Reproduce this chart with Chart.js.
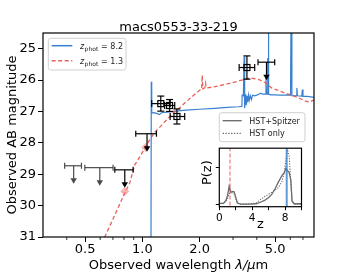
<!DOCTYPE html>
<html>
<head>
<meta charset="utf-8">
<script src="https://cdn.jsdelivr.net/npm/chart.js@4.4.1/dist/chart.umd.min.js"></script>
<style>
    body { margin: 0; background: #fff; }
    #wrap { position: relative; width: 349px; height: 279px; }
    #main { position: absolute; left: 0; top: 0; }
    #inset { position: absolute; left: 195px; top: 138px; }
</style>
</head>
<body>
<div id="wrap">
    <canvas id="main" width="349" height="279"></canvas>
    <canvas id="inset" width="120" height="100"></canvas>
</div>
<script>
// z_phot = 8.2 model spectrum (micron, AB mag)
const blueWave = [0.30, 1.108, 1.114, 1.120, 1.15, 1.20, 1.23, 1.26, 1.35, 1.50, 1.70, 2.00, 2.40, 2.80, 3.20, 3.34,
    3.35, 3.40, 3.43, 3.445, 3.46, 3.50, 3.52, 3.56, 3.58, 3.62, 3.65, 3.70, 3.75, 3.80, 3.90, 4.00, 4.10, 4.20,
    4.30, 4.44, 4.47, 4.50, 4.545, 4.56, 4.575, 4.60, 4.61, 4.62, 4.75, 5.00, 5.30, 5.60, 5.80, 6.02, 6.07, 6.12,
    6.30, 6.45, 6.50, 6.55, 6.90, 6.95, 7.00, 7.40, 8.00];
const blueMag = [34.0, 34.0, 26.05, 27.05, 27.04, 27.07, 27.10, 27.04, 27.02, 26.99, 26.96, 26.93, 26.90, 26.87, 26.85, 26.84,
    26.48, 26.50, 25.25, 26.50, 26.90, 26.45, 26.80, 26.50, 26.70, 26.48, 26.65, 26.50, 26.62, 26.48, 26.50, 26.48, 26.45, 26.42,
    26.45, 26.45, 25.90, 26.45, 26.45, 25.30, 26.45, 26.45, 23.0, 26.45, 26.47, 26.47, 26.48, 26.48, 26.47, 26.48, 23.0, 26.50,
    26.50, 26.50, 26.25, 26.50, 26.51, 26.30, 26.52, 26.52, 26.55];

// z_phot = 1.3 model spectrum
const redWave = [0.60, 0.634, 0.716, 0.808, 0.858, 0.912, 0.969, 1.03, 1.094, 1.162, 1.235, 1.339, 1.451, 1.573, 1.707,
    1.849, 2.004, 2.05, 2.066, 2.08, 2.13, 2.15, 2.17, 2.355, 2.77, 3.25, 3.67, 4.14, 4.49, 4.78, 5.62, 6.56, 7.14, 7.60, 8.00];
const redMag = [31.4, 31.0, 30.3, 29.6, 29.28, 28.7, 28.45, 28.17, 27.9, 27.66, 27.5, 27.27, 27.05, 26.88, 26.68,
    26.5, 26.32, 26.3, 25.85, 26.28, 26.25, 26.1, 26.25, 26.22, 26.13, 26.02, 25.93, 25.99, 26.1, 26.25, 26.41, 26.55, 26.66, 26.7, 26.63];

// model photometry of the z = 1.3 fit
const modelWave = [0.808, 1.04];
const modelMag = [29.55, 28.15];

// measured photometry
const detWave = [1.25, 1.39, 1.52, 3.55];
const detMag = [26.75, 26.81, 27.16, 25.60];
const detErr = [0.24, 0.19, 0.24, 0.37];
const detWaveLo = [1.12, 1.31, 1.40, 3.23];
const detWaveHi = [1.40, 1.48, 1.67, 3.90];

// upper limits
const limWave = [0.435, 0.597, 0.808, 1.058, 4.50];
const limMag = [28.73, 28.79, 28.86, 27.71, 25.43];
const limWaveLo = [0.390, 0.498, 0.716, 0.923, 4.06];
const limWaveHi = [0.478, 0.701, 0.894, 1.186, 4.97];

const xTicks = [0.5, 1.0, 2.0, 5.0];
const xMinor = [0.4, 0.6, 0.7, 0.8, 0.9, 3, 4, 6, 7];
const yTicks = [25, 26, 27, 28, 29, 30, 31];

// P(z)
const zGrid = [0, 0.5, 0.8, 1.0, 1.2, 1.4, 1.6, 1.8, 2.0, 2.2, 2.6, 3.5, 4.5, 5.0, 5.5, 6.0, 6.4, 6.8, 7.2, 7.6,
    7.9, 8.1, 8.3, 8.5, 8.7, 8.85, 9.1, 10];
const pzBoth = [0.02, 0.02, 0.1, 0.23, 0.49, 0.32, 0.34, 0.33, 0.19, 0.03, 0.0, 0.0, 0.01, 0.05, 0.1, 0.18, 0.27, 0.42, 0.6, 0.76,
    0.85, 0.97, 0.9, 0.85, 0.65, 0.08, 0.01, 0.01];
const pzHst = [0.01, 0.02, 0.07, 0.15, 0.28, 0.3, 0.3, 0.27, 0.15, 0.03, 0.0, 0.0, 0.03, 0.12, 0.2, 0.27, 0.32, 0.38, 0.45, 0.6,
    0.85, 1.2, 1.47, 1.3, 0.6, 0.1, 0.0, 0.0];
const zBest = [8.2, 1.3];

const BLUE = "rgb(58, 128, 208)";
const RED = "rgba(228, 80, 70, 0.9)";
const FONT = "DejaVu Sans";

function pts(xs, ys) {
    return xs.map(function (v, i) { return { x: v, y: ys[i] }; });
}

function line(ctx, x0, y0, x1, y1) {
    ctx.beginPath();
    ctx.moveTo(x0, y0);
    ctx.lineTo(x1, y1);
    ctx.stroke();
}

function legendBox(ctx, x0, y0, x1, y1) {
    ctx.beginPath();
    ctx.roundRect(x0, y0, x1 - x0, y1 - y0, 2.5);
    ctx.fillStyle = "rgba(255,255,255,0.85)";
    ctx.fill();
    ctx.strokeStyle = "#d0d0d0";
    ctx.lineWidth = 1;
    ctx.stroke();
}

const decor = {
    id: "decor",
    afterDatasetsDraw(chart) {
        const { ctx, scales: { x, y } } = chart;
        ctx.save();
        ctx.lineWidth = 1.2;

        // upper limits
        limWave.forEach(function (w, i) {
            const px = x.getPixelForValue(w), py = y.getPixelForValue(limMag[i]);
            const x0 = x.getPixelForValue(limWaveLo[i]), x1 = x.getPixelForValue(limWaveHi[i]);
            const col = i < 2 ? "#4a4a4a" : "#000";
            ctx.strokeStyle = col;
            ctx.fillStyle = col;
            line(ctx, x0, py, x1, py);
            line(ctx, x0, py - 3, x0, py + 3);
            line(ctx, x1, py - 3, x1, py + 3);
            line(ctx, px, py, px, py + 13);
            ctx.beginPath();
            ctx.moveTo(px - 3.2, py + 12.5);
            ctx.lineTo(px + 3.2, py + 12.5);
            ctx.lineTo(px, py + 18);
            ctx.closePath();
            ctx.fill();
        });

        // detections
        ctx.strokeStyle = "#000";
        detWave.forEach(function (w, i) {
            const px = x.getPixelForValue(w), py = y.getPixelForValue(detMag[i]);
            const x0 = x.getPixelForValue(detWaveLo[i]), x1 = x.getPixelForValue(detWaveHi[i]);
            const y0 = y.getPixelForValue(detMag[i] - detErr[i]), y1 = y.getPixelForValue(detMag[i] + detErr[i]);
            line(ctx, x0, py, x1, py);
            line(ctx, x0, py - 3.5, x0, py + 3.5);
            line(ctx, x1, py - 3.5, x1, py + 3.5);
            line(ctx, px, y0, px, y1);
            line(ctx, px - 3.5, y0, px + 3.5, y0);
            line(ctx, px - 3.5, y1, px + 3.5, y1);
            ctx.strokeRect(px - 3, py - 3, 6, 6);
        });
        ctx.restore();
    },
    afterDraw(chart) {
        const { ctx, chartArea: a, scales: { x } } = chart;
        ctx.save();
        // frame
        ctx.strokeStyle = "#000";
        ctx.lineWidth = 1.2;
        ctx.strokeRect(a.left, a.top, a.right - a.left, a.bottom - a.top);
        // minor ticks
        ctx.lineWidth = 0.8;
        xMinor.forEach(function (v) {
            const px = x.getPixelForValue(v);
            line(ctx, px, a.bottom, px, a.bottom + 3);
        });

        ctx.fillStyle = "#000";
        // title
        ctx.font = "13px '" + FONT + "'";
        ctx.textAlign = "center";
        ctx.textBaseline = "alphabetic";
        ctx.fillText("macs0553-33-219", (a.left + a.right) / 2, 30.7);

        // x label
        const p1 = "Observed wavelength ", p2 = "\u03bb/\u03bc", p3 = "m";
        ctx.font = "13px '" + FONT + "'";
        const w1 = ctx.measureText(p1).width, w3 = ctx.measureText(p3).width;
        ctx.font = "italic 13px '" + FONT + "'";
        const w2 = ctx.measureText(p2).width;
        let sx = (a.left + a.right) / 2 - (w1 + w2 + w3) / 2;
        ctx.textAlign = "left";
        ctx.font = "13px '" + FONT + "'";
        ctx.fillText(p1, sx, 269.4);
        ctx.font = "italic 13px '" + FONT + "'";
        ctx.fillText(p2, sx + w1, 269.4);
        ctx.font = "13px '" + FONT + "'";
        ctx.fillText(p3, sx + w1 + w2, 269.4);

        // y label
        ctx.save();
        ctx.translate(16.3, (a.top + a.bottom) / 2);
        ctx.rotate(-Math.PI / 2);
        ctx.textAlign = "center";
        ctx.fillText("Observed AB magnitude", 0, 0);
        ctx.restore();

        // main legend
        legendBox(ctx, 48.3, 38.3, 126, 70);
        ctx.lineWidth = 1.5;
        ctx.strokeStyle = BLUE;
        line(ctx, 51.7, 45.7, 72.3, 45.7);
        ctx.strokeStyle = RED;
        ctx.setLineDash([4, 2.5]);
        line(ctx, 51.7, 60.7, 72.3, 60.7);
        ctx.setLineDash([]);
        ctx.fillStyle = "#222";
        [["8.2", 48.7], ["1.3", 63.7]].forEach(function (r) {
            ctx.font = "italic 8px '" + FONT + "'";
            ctx.fillText("z", 80, r[1]);
            ctx.font = "6px '" + FONT + "'";
            ctx.fillText("phot", 84.6, r[1] + 2);
            ctx.font = "8px '" + FONT + "'";
            ctx.fillText(" = " + r[0], 98.5, r[1]);
        });

        // inset legend
        legendBox(ctx, 219.3, 112.7, 305, 141.7);
        ctx.strokeStyle = "#666";
        ctx.lineWidth = 1.3;
        line(ctx, 222.7, 120.7, 241.7, 120.7);
        ctx.setLineDash([1.3, 1.5]);
        line(ctx, 222.7, 133.3, 241.7, 133.3);
        ctx.setLineDash([]);
        ctx.fillStyle = "#222";
        ctx.font = "8px '" + FONT + "'";
        ctx.fillText("HST+Spitzer", 249.3, 123.6);
        ctx.fillText("HST only", 249.3, 136.2);
        ctx.restore();
    }
};

const mainCtx = document.getElementById("main").getContext("2d");
new Chart(mainCtx, {
    type: "scatter",
    data: {
        datasets: [
            {
                data: pts(modelWave, modelMag),
                pointStyle: "rectRot",
                pointRadius: 4.5,
                backgroundColor: "rgba(240, 120, 120, 0.55)",
                borderWidth: 0,
            },
            {
                data: pts(redWave, redMag),
                showLine: true,
                borderColor: RED,
                borderWidth: 1.3,
                borderDash: [4, 2.5],
                pointRadius: 0,
            },
            {
                data: pts(blueWave, blueMag),
                showLine: true,
                borderColor: BLUE,
                borderWidth: 1.2,
                pointRadius: 0,
            },
        ],
    },
    options: {
        responsive: false,
        animation: false,
        layout: { padding: { top: 33, right: 35, left: 0, bottom: 0 } },
        plugins: { legend: { display: false }, tooltip: { enabled: false } },
        scales: {
            x: {
                type: "logarithmic",
                min: 0.3,
                max: 8,
                afterFit: function (s) { s.height = 42; },
                afterBuildTicks: function (s) { s.ticks = xTicks.map(function (v) { return { value: v }; }); },
                ticks: {
                    callback: function (v) { return Number(v).toFixed(1); },
                    font: { family: FONT, size: 13 },
                    color: "#000",
                    padding: 0,
                    maxRotation: 0,
                    autoSkip: false,
                },
                grid: { drawOnChartArea: false, tickLength: 5, color: "#000", lineWidth: 1 },
                border: { display: false },
            },
            y: {
                min: 24.5,
                max: 31,
                reverse: true,
                afterFit: function (s) { s.width = 43; },
                afterBuildTicks: function (s) { s.ticks = yTicks.map(function (v) { return { value: v }; }); },
                ticks: {
                    callback: function (v) { return String(v); },
                    font: { family: FONT, size: 13 },
                    color: "#000",
                    padding: 2,
                },
                grid: { drawOnChartArea: false, tickLength: 5, color: "#000", lineWidth: 1 },
                border: { display: false },
            },
        },
    },
    plugins: [decor],
});

const insetDecor = {
    id: "insetDecor",
    beforeDraw(chart) {
        const { ctx, chartArea: a } = chart;
        ctx.save();
        ctx.fillStyle = "#fff";
        ctx.fillRect(a.left, a.top, a.right - a.left, a.bottom - a.top);
        ctx.restore();
    },
    afterDraw(chart) {
        const { ctx, chartArea: a } = chart;
        ctx.save();
        ctx.strokeStyle = "#000";
        ctx.lineWidth = 1.2;
        ctx.strokeRect(a.left, a.top, a.right - a.left, a.bottom - a.top);
        ctx.fillStyle = "#000";
        ctx.font = "13px '" + FONT + "'";
        ctx.textAlign = "center";
        ctx.fillText("z", (a.left + a.right) / 2, 90);
        ctx.translate(15.5, 34.7);
        ctx.rotate(-Math.PI / 2);
        ctx.fillText("P(z)", 0, 0);
        ctx.restore();
    }
};

const insetCtx = document.getElementById("inset").getContext("2d");
new Chart(insetCtx, {
    type: "scatter",
    data: {
        datasets: [
            {
                data: [{ x: zBest[0], y: -0.2 }, { x: zBest[0], y: 1.7 }],
                showLine: true,
                borderColor: "rgba(58, 128, 208, 0.8)",
                borderWidth: 2,
                pointRadius: 0,
            },
            {
                data: [{ x: zBest[1], y: -0.2 }, { x: zBest[1], y: 1.7 }],
                showLine: true,
                borderColor: "rgba(228, 80, 70, 0.75)",
                borderWidth: 1.2,
                borderDash: [4, 2],
                pointRadius: 0,
            },
            {
                data: pts(zGrid, pzBoth),
                showLine: true,
                borderColor: "#6b6b6b",
                borderWidth: 1.3,
                pointRadius: 0,
            },
            {
                data: pts(zGrid, pzHst),
                showLine: true,
                borderColor: "#6b6b6b",
                borderWidth: 1.1,
                borderDash: [1.2, 1.4],
                pointRadius: 0,
            },
        ],
    },
    options: {
        responsive: false,
        animation: false,
        layout: { padding: { top: 7, right: 13.5, left: 0, bottom: 0 } },
        plugins: { legend: { display: false }, tooltip: { enabled: false } },
        scales: {
            x: {
                type: "linear",
                min: 0,
                max: 10,
                afterFit: function (s) { s.height = 31.3; },
                afterBuildTicks: function (s) { s.ticks = [0, 2, 4, 6, 8, 10].map(function (v) { return { value: v }; }); },
                ticks: {
                    callback: function (v) { return v % 4 === 0 && v < 10 ? String(v) : ""; },
                    font: { family: FONT, size: 10.5 },
                    color: "#000",
                    padding: 1.5,
                    maxRotation: 0,
                    autoSkip: false,
                },
                grid: { drawOnChartArea: false, tickLength: 3.5, color: "#000", lineWidth: 1 },
                border: { display: false },
            },
            y: {
                min: -0.07,
                max: 1.51,
                afterFit: function (s) { s.width = 24.3; },
                afterBuildTicks: function (s) { s.ticks = [0, 1].map(function (v) { return { value: v }; }); },
                ticks: { callback: function () { return ""; } },
                grid: { drawOnChartArea: false, tickLength: 3.5, color: "#000", lineWidth: 1 },
                border: { display: false },
            },
        },
    },
    plugins: [insetDecor],
});
</script>
</body>
</html>
